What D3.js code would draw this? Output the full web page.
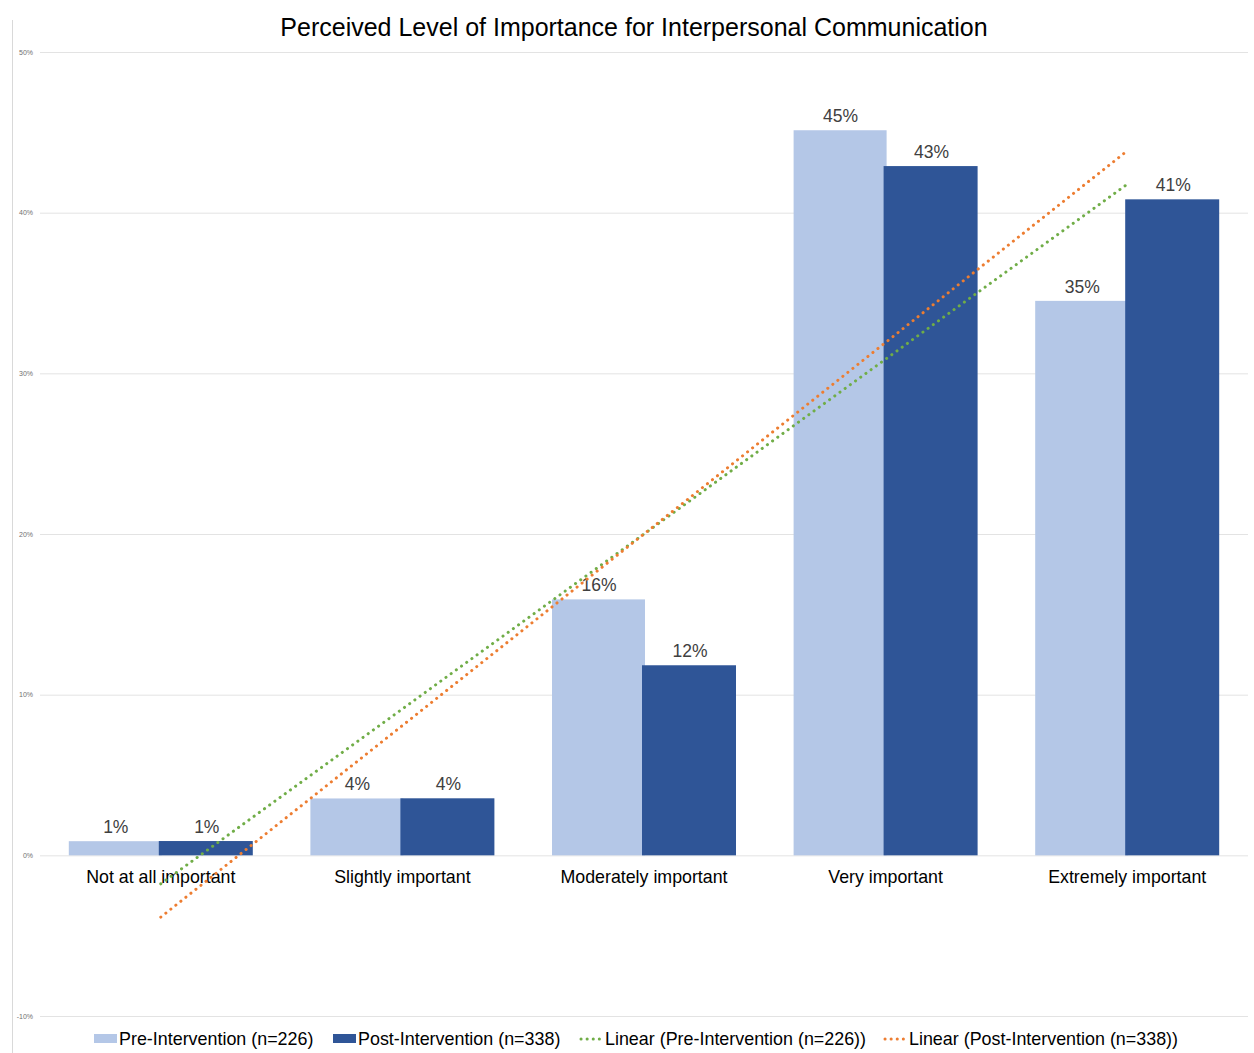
<!DOCTYPE html>
<html>
<head>
<meta charset="utf-8">
<script src="https://cdn.jsdelivr.net/npm/d3@7"></script>
<style>
  html, body { margin: 0; padding: 0; background: #fff; }
  svg { display: block; font-family: "Liberation Sans", Arial, Helvetica, sans-serif; }
</style>
</head>
<body>
<svg id="chart" width="1254" height="1053"></svg>
<script>
// Survey responses (share of respondents, %)
const categories = ["Not at all important", "Slightly important", "Moderately important", "Very important", "Extremely important"];
const preValues = [0.88, 3.54, 15.93, 45.13, 34.51];
const postValues = [0.89, 3.55, 11.83, 42.90, 40.83];
const seriesNames = ["Pre-Intervention (n=226)", "Post-Intervention (n=338)"];
const yTicks = [-10, 0, 10, 20, 30, 40, 50];

const colors = { pre: "#B4C7E7", post: "#2F5597", preTrend: "#70AD47", postTrend: "#ED7D31" };

const svg = d3.select("#chart");
const W = 1254, H = 1053;
const plot = { left: 40, right: 1248, top: 52, bottom: 1016 };

const x = d3.scaleBand().domain(categories).range([plot.left, plot.right]).padding(0);
const y = d3.scaleLinear().domain([-10, 50]).range([plot.bottom, plot.top]);

// chart frame edge on the left
svg.append("line")
  .attr("x1", 12.5).attr("x2", 12.5).attr("y1", 20).attr("y2", H)
  .attr("stroke", "#d9d9d9").attr("stroke-width", 1);

// title
svg.append("text")
  .attr("x", 634).attr("y", 36)
  .attr("text-anchor", "middle")
  .attr("font-size", 25)
  .attr("fill", "#000")
  .text("Perceived Level of Importance for Interpersonal Communication");

// gridlines + tick labels
const yAxis = d3.axisLeft(y).tickValues(yTicks).tickSize(-(plot.right - plot.left)).tickFormat(d => d + "%");
const gAxis = svg.append("g").attr("transform", `translate(${plot.left},0)`).call(yAxis);
gAxis.select(".domain").remove();
gAxis.selectAll(".tick line").attr("stroke", "#e3e3e3").attr("stroke-width", 1);
gAxis.selectAll(".tick text")
  .attr("x", -7).attr("font-size", 7).attr("fill", "#707070")
  .attr("font-family", "\"Liberation Sans\", Arial, sans-serif");

const cx = d => x(d) + x.bandwidth() / 2;
const barW = 92;

// pre bars
svg.append("g").selectAll("rect")
  .data(categories.map((c, i) => ({ c, v: preValues[i] })))
  .join("rect")
  .attr("x", d => cx(d.c) - barW)
  .attr("width", barW + 1)
  .attr("y", d => y(d.v))
  .attr("height", d => y(0) - y(d.v))
  .attr("fill", colors.pre);

// post bars
svg.append("g").selectAll("rect")
  .data(categories.map((c, i) => ({ c, v: postValues[i] })))
  .join("rect")
  .attr("x", d => cx(d.c) - 2)
  .attr("width", barW + 2)
  .attr("y", d => y(d.v))
  .attr("height", d => y(0) - y(d.v))
  .attr("fill", colors.post);

// value labels
function labels(values, offset) {
  svg.append("g").selectAll("text")
    .data(categories.map((c, i) => ({ c, v: values[i] })))
    .join("text")
    .attr("x", d => cx(d.c) + offset)
    .attr("y", d => y(d.v) - 8)
    .attr("text-anchor", "middle")
    .attr("font-size", 17.5)
    .attr("fill", "#404040")
    .text(d => Math.round(d.v) + "%");
}
labels(preValues, -45);
labels(postValues, 46);

// category labels
svg.append("g").selectAll("text")
  .data(categories)
  .join("text")
  .attr("x", d => cx(d))
  .attr("y", y(0) + 28)
  .attr("text-anchor", "middle")
  .attr("font-size", 17.8)
  .attr("fill", "#000")
  .text(d => d);

// least-squares linear trendlines over category index 1..n
function linearFit(values) {
  const n = values.length;
  const xs = values.map((_, i) => i + 1);
  const mx = d3.mean(xs), my = d3.mean(values);
  const slope = d3.sum(xs.map((xi, i) => (xi - mx) * (values[i] - my))) / d3.sum(xs.map(xi => (xi - mx) ** 2));
  const intercept = my - slope * mx;
  return [1, n].map(xi => ({ c: categories[xi - 1], v: intercept + slope * xi }));
}
function trend(values, color) {
  const pts = linearFit(values);
  svg.append("line")
    .attr("x1", cx(pts[0].c)).attr("y1", y(pts[0].v))
    .attr("x2", cx(pts[1].c)).attr("y2", y(pts[1].v))
    .attr("stroke", color).attr("stroke-width", 3)
    .attr("stroke-linecap", "round")
    .attr("stroke-dasharray", "0.1 6.3");
}
trend(preValues, colors.preTrend);
trend(postValues, colors.postTrend);

// legend
const legendY = 1038;
const legend = svg.append("g");
const items = [
  { type: "rect", color: colors.pre, label: seriesNames[0], x: 94 },
  { type: "rect", color: colors.post, label: seriesNames[1], x: 333 },
  { type: "line", color: colors.preTrend, label: `Linear (${seriesNames[0]})`, x: 580 },
  { type: "line", color: colors.postTrend, label: `Linear (${seriesNames[1]})`, x: 884 }
];
items.forEach(it => {
  if (it.type === "rect") {
    legend.append("rect").attr("x", it.x).attr("y", legendY - 4).attr("width", 23).attr("height", 9).attr("fill", it.color);
  } else {
    legend.append("line")
      .attr("x1", it.x + 1).attr("x2", it.x + 22).attr("y1", legendY + 1).attr("y2", legendY + 1)
      .attr("stroke", it.color).attr("stroke-width", 3).attr("stroke-linecap", "round")
      .attr("stroke-dasharray", "0.1 6");
  }
  legend.append("text")
    .attr("x", it.x + 25).attr("y", legendY + 7)
    .attr("font-size", 17.9).attr("fill", "#000")
    .text(it.label);
});
</script>
</body>
</html>
